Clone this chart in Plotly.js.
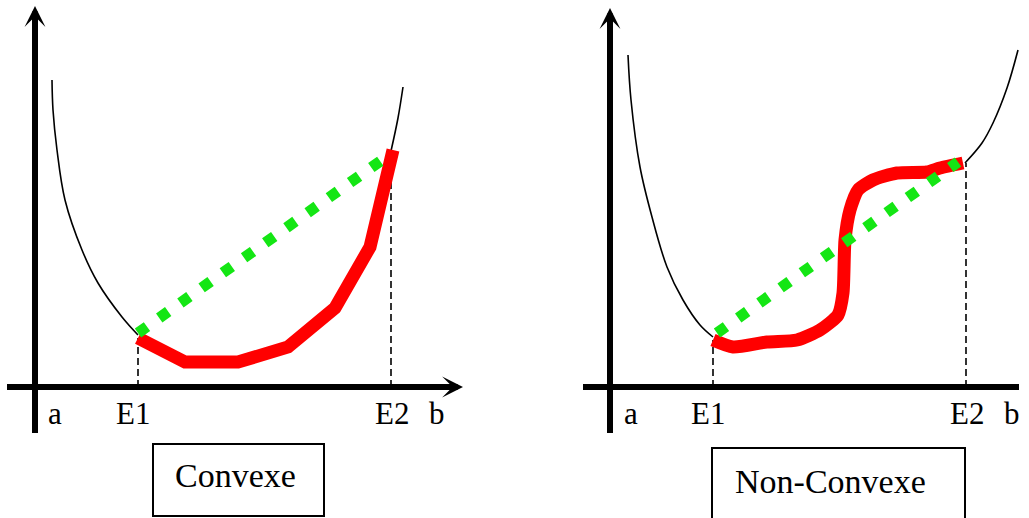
<!DOCTYPE html>
<html><head><meta charset="utf-8">
<script src="https://cdn.plot.ly/plotly-3.0.1.min.js"></script>
<style>html,body{margin:0;padding:0;background:#fff;} #chart{width:1029px;height:518px;}</style>
</head><body><div id="chart"></div>
<script>
// ---------- data (schematic units, origin = intersection of the axes) ----------
const axisLabels = ['a', 'E1', 'E2', 'b'];
const panelTitles = ['Convexe', 'Non-Convexe'];
const labelA = 2.0;      // position of label "a"
const labelB = 40.2;     // position of label "b"

// Convex panel
const cvxE = [10.3, 35.6];
const cvxCurveLeftX = [1.7, 1.8, 2.2, 3.0, 4.7, 6.3, 8.7, 10.3];
const cvxCurveLeftY = [30.7, 27.7, 23.7, 18.7, 13.7, 10.4, 7.0, 5.2];
const cvxCurveRightX = [35.6, 36.3, 36.8];
const cvxCurveRightY = [23.6, 26.9, 30.0];
const cvxPathX = [10.3, 15.0, 20.3, 25.3, 30.0, 33.5, 35.8];
const cvxPathY = [4.9, 2.5, 2.5, 4.0, 7.9, 14.0, 23.7];
const cvxChordX = [10.3, 35.4];
const cvxChordY = [5.4, 23.2];

// Non-convex panel
const ncvE = [10.3, 35.6];
const ncvCurveLeftX = [1.8, 2.1, 3.0, 4.2, 5.7, 7.3, 9.0, 10.3];
const ncvCurveLeftY = [33.2, 28.7, 22.0, 17.0, 12.0, 8.7, 6.2, 5.0];
const ncvCurveRightX = [35.5, 37.2, 38.3, 39.7, 40.8];
const ncvCurveRightY = [22.4, 24.4, 26.4, 29.9, 33.7];
const ncvPathX = [10.3, 12.3, 15.7, 18.7, 21.0, 22.8, 23.3, 23.5, 24.0, 24.8, 26.3, 28.7, 31.7, 33.0, 35.3];
const ncvPathY = [4.7, 4.0, 4.5, 4.7, 5.7, 7.2, 9.4, 14.7, 17.7, 19.7, 20.7, 21.4, 21.5, 21.9, 22.4];
const ncvChordX = [10.7, 34.8];
const ncvChordY = [5.4, 22.5];

// ---------- build ----------
const RED = '#ff0000', GREEN = '#14e614', FONT = 'Liberation Serif, Times New Roman, serif';

function panel(ax, ya, E, cLX, cLY, cRX, cRY, pX, pY, chX, chY, xExt, yExt, smooth) {
  const t = [];
  const base = {xaxis: ax, yaxis: ya, mode: 'lines', hoverinfo: 'skip', showlegend: false};
  // axes
  t.push(Object.assign({}, base, {x: [xExt[0], xExt[1] - 1.2], y: [0, 0], line: {color: '#000', width: 6}}));
  t.push(Object.assign({}, base, {x: [0, 0], y: [yExt[0], yExt[1] - 1.2], line: {color: '#000', width: 6}}));
  // dashed verticals at E1, E2
  t.push(Object.assign({}, base, {x: [E[0], E[0]], y: [0, pY[0]], line: {color: '#000', width: 1.6, dash: '7px,4px'}}));
  t.push(Object.assign({}, base, {x: [E[1], E[1]], y: [0, pY[pY.length - 1]], line: {color: '#000', width: 1.6, dash: '7px,4px'}}));
  // function curve
  t.push(Object.assign({}, base, {x: cLX, y: cLY, line: {color: '#000', width: 1.6, shape: 'spline', smoothing: 1}}));
  t.push(Object.assign({}, base, {x: cRX, y: cRY, line: {color: '#000', width: 1.6, shape: 'spline', smoothing: 1}}));
  // red path
  t.push(Object.assign({}, base, {x: pX, y: pY, line: {color: RED, width: 13, shape: smooth ? 'spline' : 'linear', smoothing: 0.6}}));
  // green chord
  t.push(Object.assign({}, base, {x: chX, y: chY, line: {color: GREEN, width: 11, dash: '11px,15px'}}));
  return t;
}

const data = [].concat(
  panel('x', 'y', cvxE, cvxCurveLeftX, cvxCurveLeftY, cvxCurveRightX, cvxCurveRightY, cvxPathX, cvxPathY, cvxChordX, cvxChordY, [-2.8, 42.8], [-4.6, 38.1], false),
  panel('x2', 'y2', ncvE, ncvCurveLeftX, ncvCurveLeftY, ncvCurveRightX, ncvCurveRightY, ncvPathX, ncvPathY, ncvChordX, ncvChordY, [-2.7, 42.1], [-4.6, 37.9], true)
);

function arrowHead(xr, yr, x, y, ax, ay) {
  return {xref: xr, yref: yr, x: x, y: y, ax: ax, ay: ay, text: '', showarrow: true,
          arrowhead: 3, arrowsize: 0.58, arrowwidth: 6, arrowcolor: '#000', standoff: 0};
}
function label(xr, yr, x, text, xshift) {
  return {xref: xr, yref: yr, x: x, y: 0, yshift: -26, xshift: xshift || 0, text: text, showarrow: false,
          font: {family: FONT, size: 31, color: '#000'}};
}

const annotations = [
  arrowHead('x', 'y', 42.8, 0, -30, 0),
  arrowHead('x', 'y', 0, 38.1, 0, 30),
  arrowHead('x2', 'y2', 42.1, 0, -30, 0),
  arrowHead('x2', 'y2', 0, 37.9, 0, 30),
  label('x', 'y', labelA, axisLabels[0]),
  label('x', 'y', cvxE[0], axisLabels[1], -5),
  label('x', 'y', cvxE[1], axisLabels[2], 1),
  label('x', 'y', labelB, axisLabels[3]),
  label('x2', 'y2', labelA + 0.1, axisLabels[0]),
  label('x2', 'y2', ncvE[0], axisLabels[1], -5),
  label('x2', 'y2', ncvE[1], axisLabels[2], 1),
  label('x2', 'y2', labelB, axisLabels[3]),
  {xref: 'x', yref: 'y', x: 20.0, y: -8.8, text: panelTitles[0], showarrow: false, font: {family: FONT, size: 34, color: '#000'}},
  {xref: 'x2', yref: 'y2', x: 22.0, y: -9.4, text: panelTitles[1], showarrow: false, font: {family: FONT, size: 34, color: '#000'}}
];

const shapes = [
  {type: 'rect', xref: 'x', yref: 'y', x0: 11.8, x1: 28.9, y0: -12.9, y1: -5.7, line: {color: '#000', width: 2}},
  {type: 'rect', xref: 'x2', yref: 'y2', x0: 10.2, x1: 35.5, y0: -14.8, y1: -6.1, line: {color: '#000', width: 2}}
];

const hid = {visible: false, showgrid: false, zeroline: false, fixedrange: true};
const layout = {
  width: 1029, height: 518,
  margin: {l: 0, r: 0, t: 0, b: 0, pad: 0},
  paper_bgcolor: '#fff', plot_bgcolor: '#fff',
  showlegend: false,
  xaxis: Object.assign({}, hid, {domain: [0, 470 / 1029], range: [-3.5, 43.5], anchor: 'y'}),
  yaxis: Object.assign({}, hid, {domain: [0, 1], range: [-13.1, 38.7], anchor: 'x'}),
  xaxis2: Object.assign({}, hid, {domain: [470 / 1029, 1], range: [-14.0, 41.9], anchor: 'y2'}),
  yaxis2: Object.assign({}, hid, {domain: [0, 1], range: [-13.1, 38.7], anchor: 'x2'}),
  annotations: annotations,
  shapes: shapes
};

Plotly.newPlot('chart', data, layout, {displayModeBar: false, staticPlot: true});
</script>
</body></html>
